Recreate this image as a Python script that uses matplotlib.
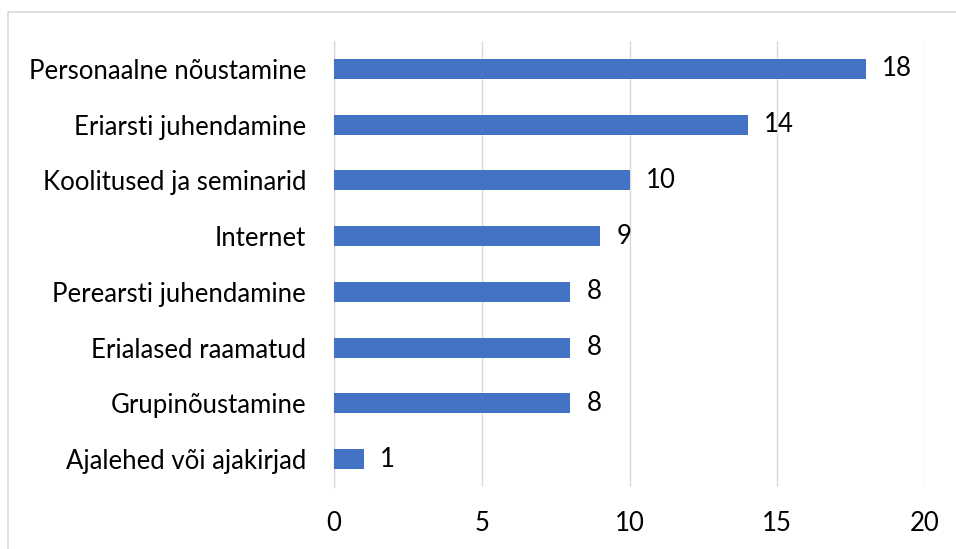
import matplotlib.pyplot as plt
from matplotlib.patches import Rectangle

# Allikad ja vastajate arv
allikad = ['Personaalne nõustamine', 'Eriarsti juhendamine', 'Koolitused ja seminarid',
           'Internet', 'Perearsti juhendamine', 'Erialased raamatud',
           'Grupinõustamine', 'Ajalehed või ajakirjad']
vastajad = [18, 14, 10, 9, 8, 8, 8, 1]
x_ticks = [0, 5, 10, 15, 20]

plt.rcParams['font.family'] = ['Lato', 'DejaVu Sans']
fs = 18.5

fig = plt.figure(figsize=(9.56, 5.49), dpi=100)
ax = fig.add_axes([334 / 956, 1 - 487 / 549, 591 / 956, 446 / 549])

pos = list(range(len(allikad)))[::-1]
ax.barh(pos, vastajad, height=0.36, color='#4472C4', zorder=3)

# Väärtused tulpade kõrval
for p, v in zip(pos, vastajad):
    ax.text(v + 0.55, p, str(v), va='center', ha='left', fontsize=fs, color='black')

ax.set_xlim(0, 20)
ax.set_ylim(-0.5, len(allikad) - 0.5)
ax.set_xticks(x_ticks)
ax.set_yticks(pos)
ax.set_yticklabels(allikad)
ax.tick_params(axis='both', length=0, labelsize=fs, colors='black')
ax.tick_params(axis='y', pad=20)
ax.tick_params(axis='x', pad=17)
ax.grid(axis='x', color='#d9d9d9', linewidth=1.0, zorder=0)

for s in ['top', 'right', 'bottom']:
    ax.spines[s].set_visible(False)
ax.spines['left'].set_color('#d9d9d9')
ax.spines['left'].set_linewidth(1.0)

# Diagrammi raam
fig.patches.append(Rectangle((8 / 956, -0.1), 1.2, 1 - 12 / 549 + 0.1,
                             transform=fig.transFigure, fill=False,
                             edgecolor='#d9d9d9', linewidth=1.2))

fig.savefig('out.png', dpi=100)
